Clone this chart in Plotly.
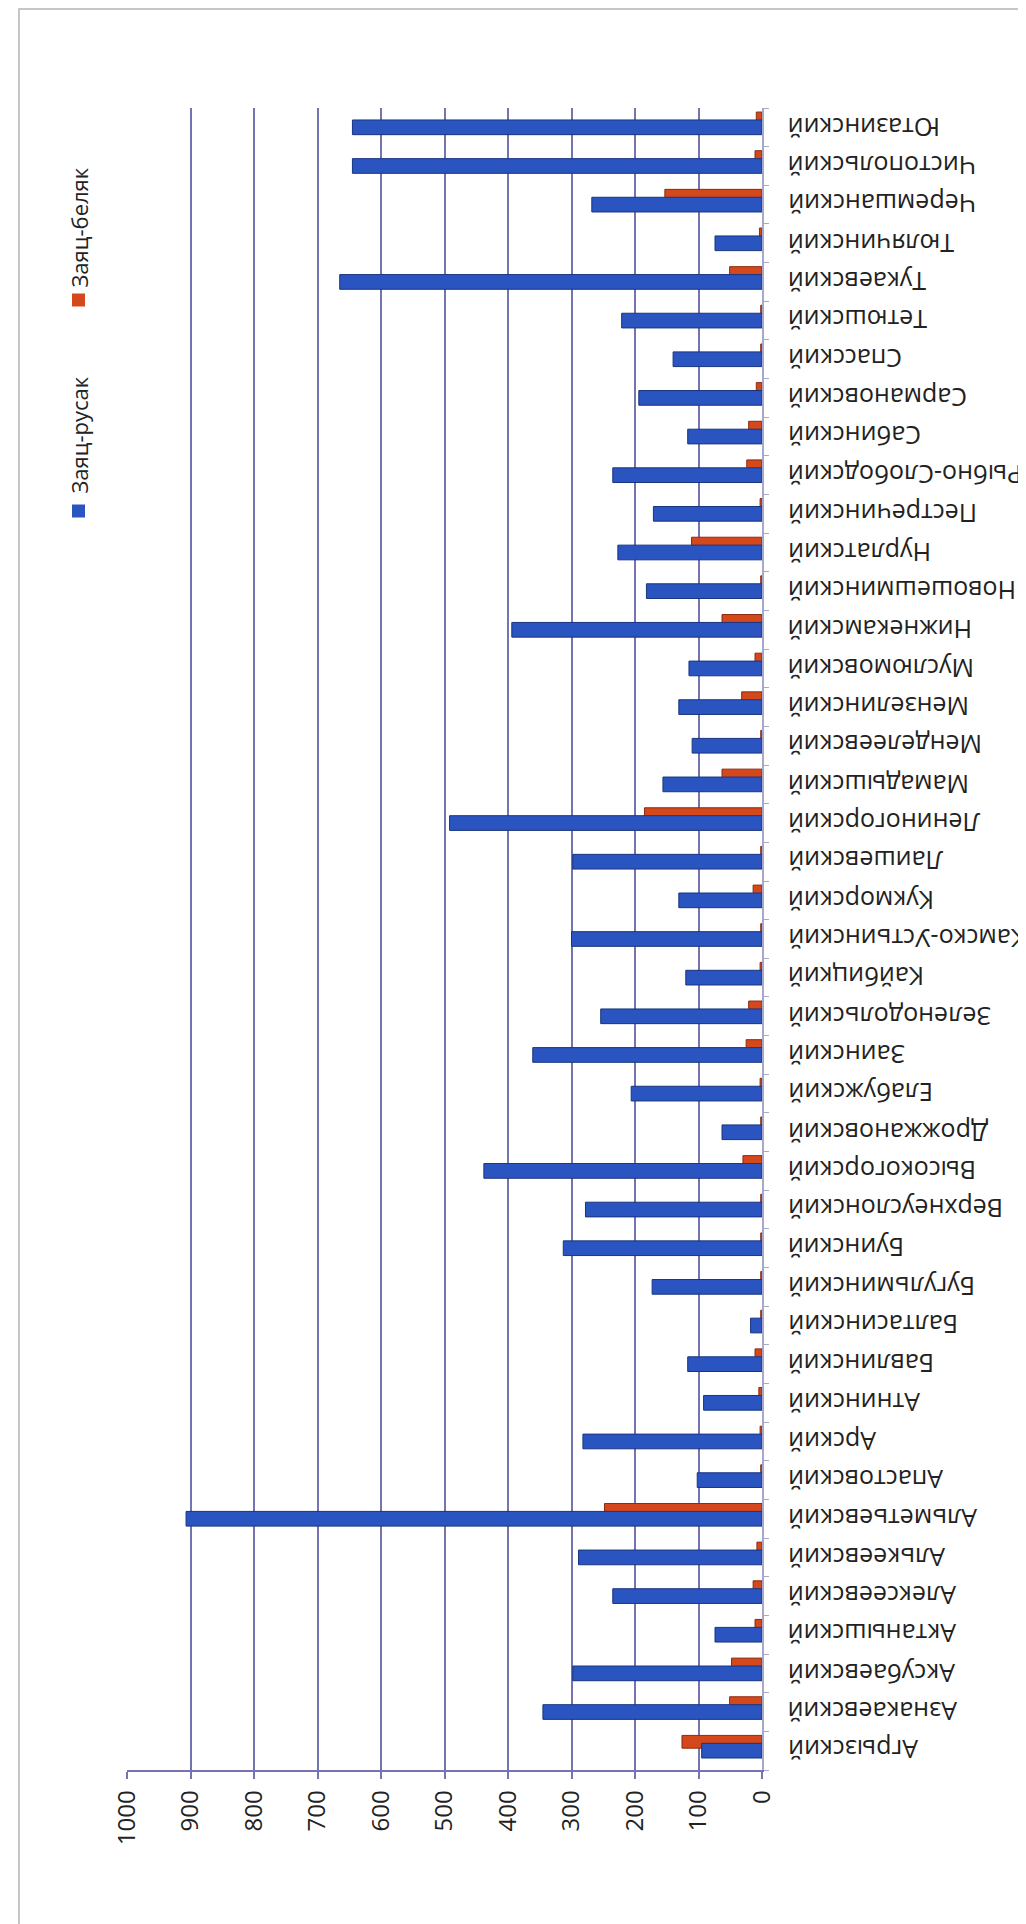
import plotly.graph_objects as go

categories = ["Агрызский", "Азнакаевский", "Аксубаевский", "Актанышский", "Алексеевский",
              "Алькеевский", "Альметьевский", "Апастовский", "Арский", "Атнинский",
              "Бавлинский", "Балтасинский", "Бугульминский", "Буинский", "Верхнеуслонский",
              "Высокогорский", "Дрожжановский", "Елабужский", "Заинский", "Зеленодольский",
              "Кайбицкий", "Камско-Устьинский", "Кукморский", "Лаишевский", "Лениногорский",
              "Мамадышский", "Менделеевский", "Мензелинский", "Муслюмовский", "Нижнекамский",
              "Новошешминский", "Нурлатский", "Пестречинский", "Рыбно-Слободский", "Сабинский",
              "Сармановский", "Спасский", "Тетюшский", "Тукаевский", "Тюлячинский",
              "Черемшанский", "Чистопольский", "Ютазинский"]

rusak = [95, 345, 298, 74, 235, 289, 907, 102, 282, 92,
         117, 18, 173, 313, 278, 438, 63, 206, 361, 254,
         120, 300, 131, 298, 492, 156, 110, 131, 115, 394,
         182, 227, 171, 235, 117, 194, 140, 221, 665, 74,
         268, 645, 645]

belyak = [126, 51, 48, 11, 14, 8, 248, 2, 3, 5,
          11, 2, 2, 2, 2, 30, 2, 3, 25, 21,
          3, 2, 14, 2, 185, 63, 2, 32, 11, 63,
          2, 111, 3, 24, 21, 9, 2, 2, 51, 4,
          153, 11, 9]

series_names = ["Заяц-русак", "Заяц-беляк"]
value_ticks = list(range(0, 1001, 100))

W, H = 1026, 1924
L, R, T, B = 119, 754, 100, 1762

def px_x(p):
    return (p - L) / (R - L)

def px_y(p):
    return (B - p) / (B - T)

BLUE = "#2a55c0"
BLUE_EDGE = "#18347f"
RED = "#d5481c"
RED_EDGE = "#8a2c10"
GRID = "#7474b0"
FONT = "Open Sans"
TXT = "#222222"

fig = go.Figure()
fig.add_trace(go.Bar(
    y=categories, x=belyak, orientation="h", name=series_names[1],
    marker=dict(color=RED, line=dict(color=RED_EDGE, width=1)),
    width=0.33, offset=0.065, showlegend=False,
))
fig.add_trace(go.Bar(
    y=categories, x=rusak, orientation="h", name=series_names[0],
    marker=dict(color=BLUE, line=dict(color=BLUE_EDGE, width=1)),
    width=0.38, offset=-0.19, showlegend=False,
))

fig.update_layout(
    width=W, height=H,
    margin=dict(l=L, r=W - R, t=T, b=H - B, pad=0),
    paper_bgcolor="white", plot_bgcolor="white",
    barmode="overlay",
    font=dict(family=FONT, color=TXT),
    xaxis=dict(
        range=[1000, 0], tickvals=value_ticks, ticktext=[str(v) for v in value_ticks],
        tickangle=-90, tickfont=dict(size=24, family=FONT, color=TXT),
        showgrid=True, gridcolor=GRID, gridwidth=1.5,
        showline=True, linecolor=GRID, linewidth=1.5,
        ticks="outside", ticklen=7, tickcolor=GRID, tickwidth=1.5,
        ticklabelstandoff=2, zeroline=False, fixedrange=True,
    ),
    yaxis=dict(
        type="category", categoryorder="array", categoryarray=categories,
        side="right", showticklabels=False,
        showline=True, linecolor="#a8a8cc", linewidth=1.5,
        ticks="outside", ticklen=5, tickcolor="#a8a8cc", tickson="boundaries",
        showgrid=False, zeroline=False, fixedrange=True,
        range=[-0.5, len(categories) - 0.5],
    ),
)

# upside-down category labels (as in the rotated original)
for c in categories:
    fig.add_annotation(xref="paper", yref="y", x=px_x(778), y=c,
                       text=c, textangle=180, showarrow=False,
                       xanchor="left", yanchor="middle",
                       font=dict(size=25, family=FONT, color=TXT))

# page border
fig.add_shape(type="rect", xref="paper", yref="paper",
              x0=px_x(11), x1=px_x(1022), y0=px_y(1919), y1=px_y(1),
              line=dict(color="#b4b4b4", width=1.5), fillcolor="rgba(0,0,0,0)", layer="below")

# rotated legend
legend_items = [
    (series_names[0], BLUE, 503, 427),
    (series_names[1], RED, 292, 220),
]
for name, color, sq_y, txt_y in legend_items:
    fig.add_shape(type="rect", xref="paper", yref="paper",
                  x0=px_x(64), x1=px_x(77), y0=px_y(sq_y + 6.5), y1=px_y(sq_y - 6.5),
                  line=dict(width=0), fillcolor=color)
    fig.add_annotation(xref="paper", yref="paper", x=px_x(70.5), y=px_y(txt_y),
                       text=name, textangle=-90, showarrow=False,
                       xanchor="center", yanchor="middle",
                       font=dict(size=22, family=FONT, color=TXT))

fig.write_html("out.html")
